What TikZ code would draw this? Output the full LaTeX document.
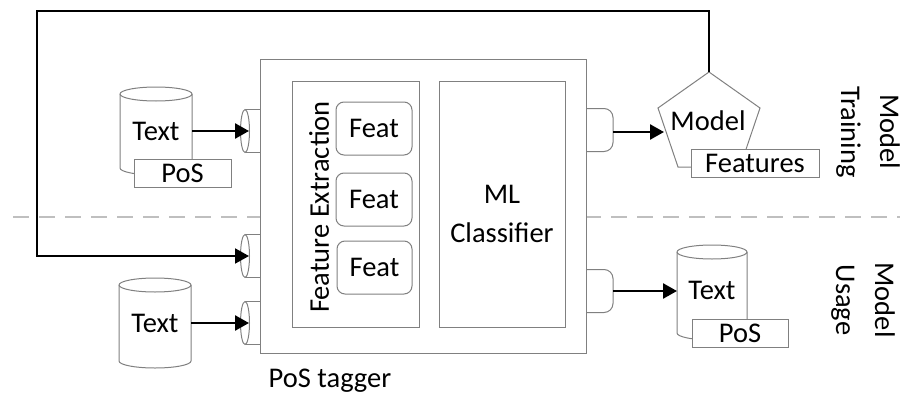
\documentclass[tikz,border=0pt]{standalone}
\usepackage{fontspec}
\setmainfont{Carlito}
\usetikzlibrary{arrows.meta,fit}
\definecolor{lgray}{RGB}{128,128,128}
\definecolor{sepgray}{RGB}{191,191,191}
\newcommand{\drawcyl}[4]{%
  \draw[shp] ({#1-#2},#3) -- ({#1-#2},#4) arc[start angle=180,end angle=360,x radius=#2pt,y radius=7pt]
     -- ({#1+#2},#3) arc[start angle=0,end angle=180,x radius=#2pt,y radius=7pt] -- cycle;
  \draw[shp,fill=none] ({#1-#2},#3) arc[start angle=180,end angle=360,x radius=#2pt,y radius=7pt];}
\newcommand{\inport}[2]{%
  \draw[shp] (260,{#1-21.5}) -- (245,{#1-21.5}) (245,{#1+21.5}) -- (260,{#1+21.5});
  \draw[shp] (245,#1) ellipse[x radius=4.5pt,y radius=21.5pt];
  \coordinate (#2) at (249,#1);}
\newcommand{\outport}[2]{%
  \draw[shp,fill=none,rounded corners=9pt] (586,{#1-21.5}) -- (613,{#1-21.5}) -- (613,{#1+21.5}) -- (586,{#1+21.5});
  \coordinate (#2) at (613,#1);}
\begin{document}
\begin{tikzpicture}[x=1pt,y=-1pt,
  shp/.style={draw=lgray,line width=1pt,fill=white},
  boxnode/.style={shp,inner sep=0pt,font=\fontsize{28.5}{34}\selectfont},
  arr/.style={draw=black,line width=2.5pt,-{Triangle[length=14pt,width=15pt]}},
  fbarr/.style={draw=black,line width=2pt,-{Triangle[length=14pt,width=15pt]}},
  lbl/.style={inner sep=0pt,align=center,font=\fontsize{28.5}{39}\selectfont}]
\useasboundingbox (0,0) rectangle (905,399);
% separator
\coordinate (sepL) at (13,217);
\coordinate (sepR) at (900,217);
\draw[sepgray,line width=2pt,dash pattern=on 16pt off 10pt] (sepL) -- (sepR);
% main box
\node[boxnode,fit={(260,59) (586,353)}] (tagger) {};
\node[boxnode,fit={(292,81) (419,327)}] (fe) {};
\node[boxnode,fit={(439,81) (565,327)}] (ml) {};
\node[boxnode,rounded corners=8pt,fit={(336,102) (412,155)}] (f1) {};
\node[lbl] (f1t) at (f1.center) {Feat};
\node[boxnode,rounded corners=8pt,fit={(336,173) (412,226)}] (f2) {};
\node[lbl] (f2t) at (f2.center) {Feat};
\node[boxnode,rounded corners=8pt,fit={(337,241) (412,294)}] (f3) {};
\node[lbl] (f3t) at (f3.center) {Feat};
\node[lbl,rotate=90] (fet) at (319,207) {Feature Extraction};
\node[lbl] (mlt) at (502,214) {ML\\Classifier};
\node[lbl] (tagt) at (330,381) {PoS tagger};
% ports
\inport{131}{p1}
\inport{256}{p2}
\inport{323}{p3}
\outport{130}{q1}
\outport{291}{q2}
\coordinate (q1a) at (613,132);
% cylinder top-left
\drawcyl{156}{36}{94}{168}
\node[lbl] (c1t) at (156,131) {Text};
\coordinate (c1e) at (192,131);
\node[boxnode,fit={(134,159) (231,187)}] (c1p) {};
\node[lbl] (c1pt) at (c1p.center) {PoS};
% cylinder bottom-left
\drawcyl{155}{36}{285}{361}
\node[lbl] (c2t) at (155,323) {Text};
\coordinate (c2e) at (191,323);
% cylinder bottom-right
\drawcyl{712}{35}{252}{333}
\node[lbl] (c3t) at (712,290) {Text};
\coordinate (c3w) at (677,291);
\node[boxnode,fit={(692,319) (788,347)}] (c3p) {};
\node[lbl] (c3pt) at (c3p.center) {PoS};
% model pentagon
\draw[shp] (709,72) -- (760,108) -- (740,167) -- (678,167) -- (658,108) -- cycle;
\coordinate (apex) at (709,72);
\coordinate (pw) at (664,132);
\node[lbl] (modt) at (708,121) {Model};
\node[boxnode,fit={(691,149) (819,177)}] (feat) {};
\node[lbl] (featt) at (feat.center) {Features};
% side labels
\node[lbl,rotate=-90] (train) at (868,132) {Model\\Training};
\node[lbl,rotate=-90] (usage) at (863,300) {Model\\Usage};
% arrows
\draw[arr] (c1e) -- (p1);
\draw[arr] (c2e) -- (p3);
\draw[arr] (q1a) -- (pw);
\draw[arr] (q2) -- (c3w);
\coordinate (fbc) at (37,11);
\draw[fbarr] (apex) |- (fbc) |- (p2);
\end{tikzpicture}
\end{document}
